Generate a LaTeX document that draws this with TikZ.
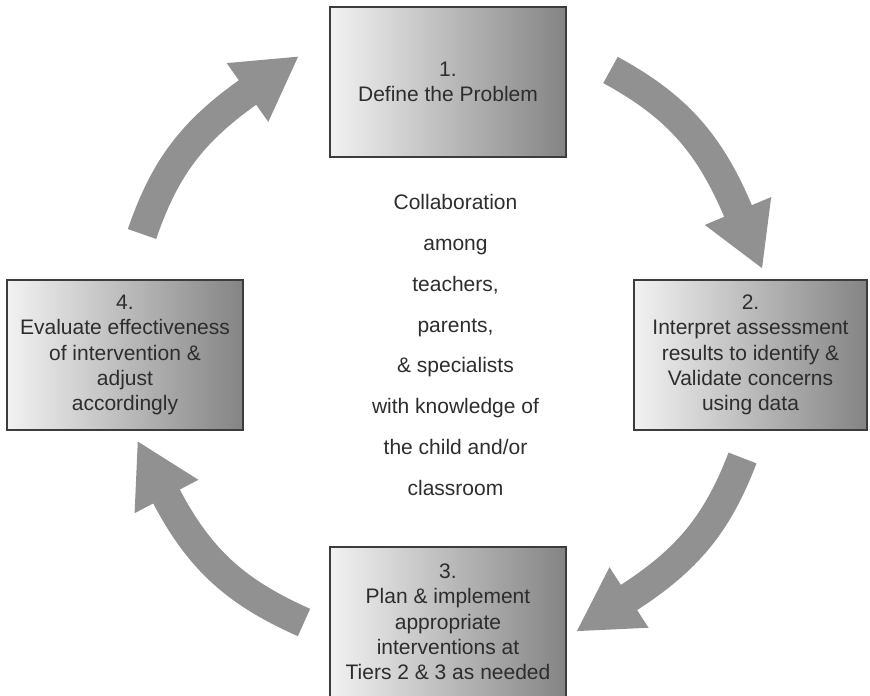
\documentclass[tikz,border=0pt]{standalone}
\usepackage{fontspec}
\setmainfont{Liberation Sans}
\usetikzlibrary{calc}
\definecolor{arrowgray}{RGB}{145,145,145}
\definecolor{boxlight}{RGB}{242,242,242}
\definecolor{boxdark}{RGB}{132,132,132}
\definecolor{boxline}{RGB}{60,60,60}
\definecolor{inkgray}{RGB}{45,45,45}
\begin{document}
\begin{tikzpicture}[x=1pt,y=1pt,
  stepbox/.style={draw=boxline, line width=1.4pt, left color=boxlight, right color=boxdark,
    minimum width=236pt, minimum height=150pt, inner sep=0pt, align=center,
    text=inkgray, font=\fontsize{21}{25.3}\selectfont},
  band/.style={draw=arrowgray, line width=30pt, shorten >=-1.5pt},
  middletext/.style={align=center, text=inkgray, font=\fontsize{21}{40.8}\selectfont}]
\useasboundingbox (0,0) rectangle (870,696);

% the four steps of the cycle
\node[stepbox] (define)   at (448,614)   {1.\\Define the Problem};
\node[stepbox, minimum width=233pt] (interpret) at (750.5,341) {2.\\Interpret assessment\\results to identify \&\\Validate concerns\\using data};
\node[stepbox] (plan)     at (448,74)    {3.\\Plan \& implement\\appropriate\\interventions at\\Tiers 2 \& 3 as needed};
\node[stepbox] (evaluate) at (125,341)   {4.\\Evaluate effectiveness\\of intervention \&\\adjust\\accordingly};

% text in the middle of the cycle
\node[middletext] (collab) at (455.5,351) {Collaboration\\among\\teachers,\\parents,\\\& specialists\\with knowledge of\\the child and/or\\classroom};

% arrow heads: neck point and heading
\newcommand\headat[2]{\fill[arrowgray] ($(#1)+(#2+90:36pt)$) -- ($(#1)+(#2:62pt)$) -- ($(#1)+(#2-90:36pt)$) -- cycle;}

% curved block arrows between the steps
\coordinate (t1) at (142,462);   \coordinate (n1) at (247.5,603.5);
\coordinate (t2) at (610.5,626); \coordinate (n2) at (738,485);
\coordinate (t3) at (742.5,238); \coordinate (n3) at (629,98.5);
\coordinate (t4) at (304,73.5);  \coordinate (n4) at (166.5,199.5);

\draw[band] (t1) to[out=71,in=215.3] (n1);
\headat{n1}{35.3}
\draw[band] (t2) to[out=-28.6,in=112.8] (n2);
\headat{n2}{-67.2}
\draw[band] (t3) to[out=249,in=32.8] (n3);
\headat{n3}{212.8}
\draw[band] (t4) to[out=156,in=297.6] (n4);
\headat{n4}{117.6}
\end{tikzpicture}
\end{document}
